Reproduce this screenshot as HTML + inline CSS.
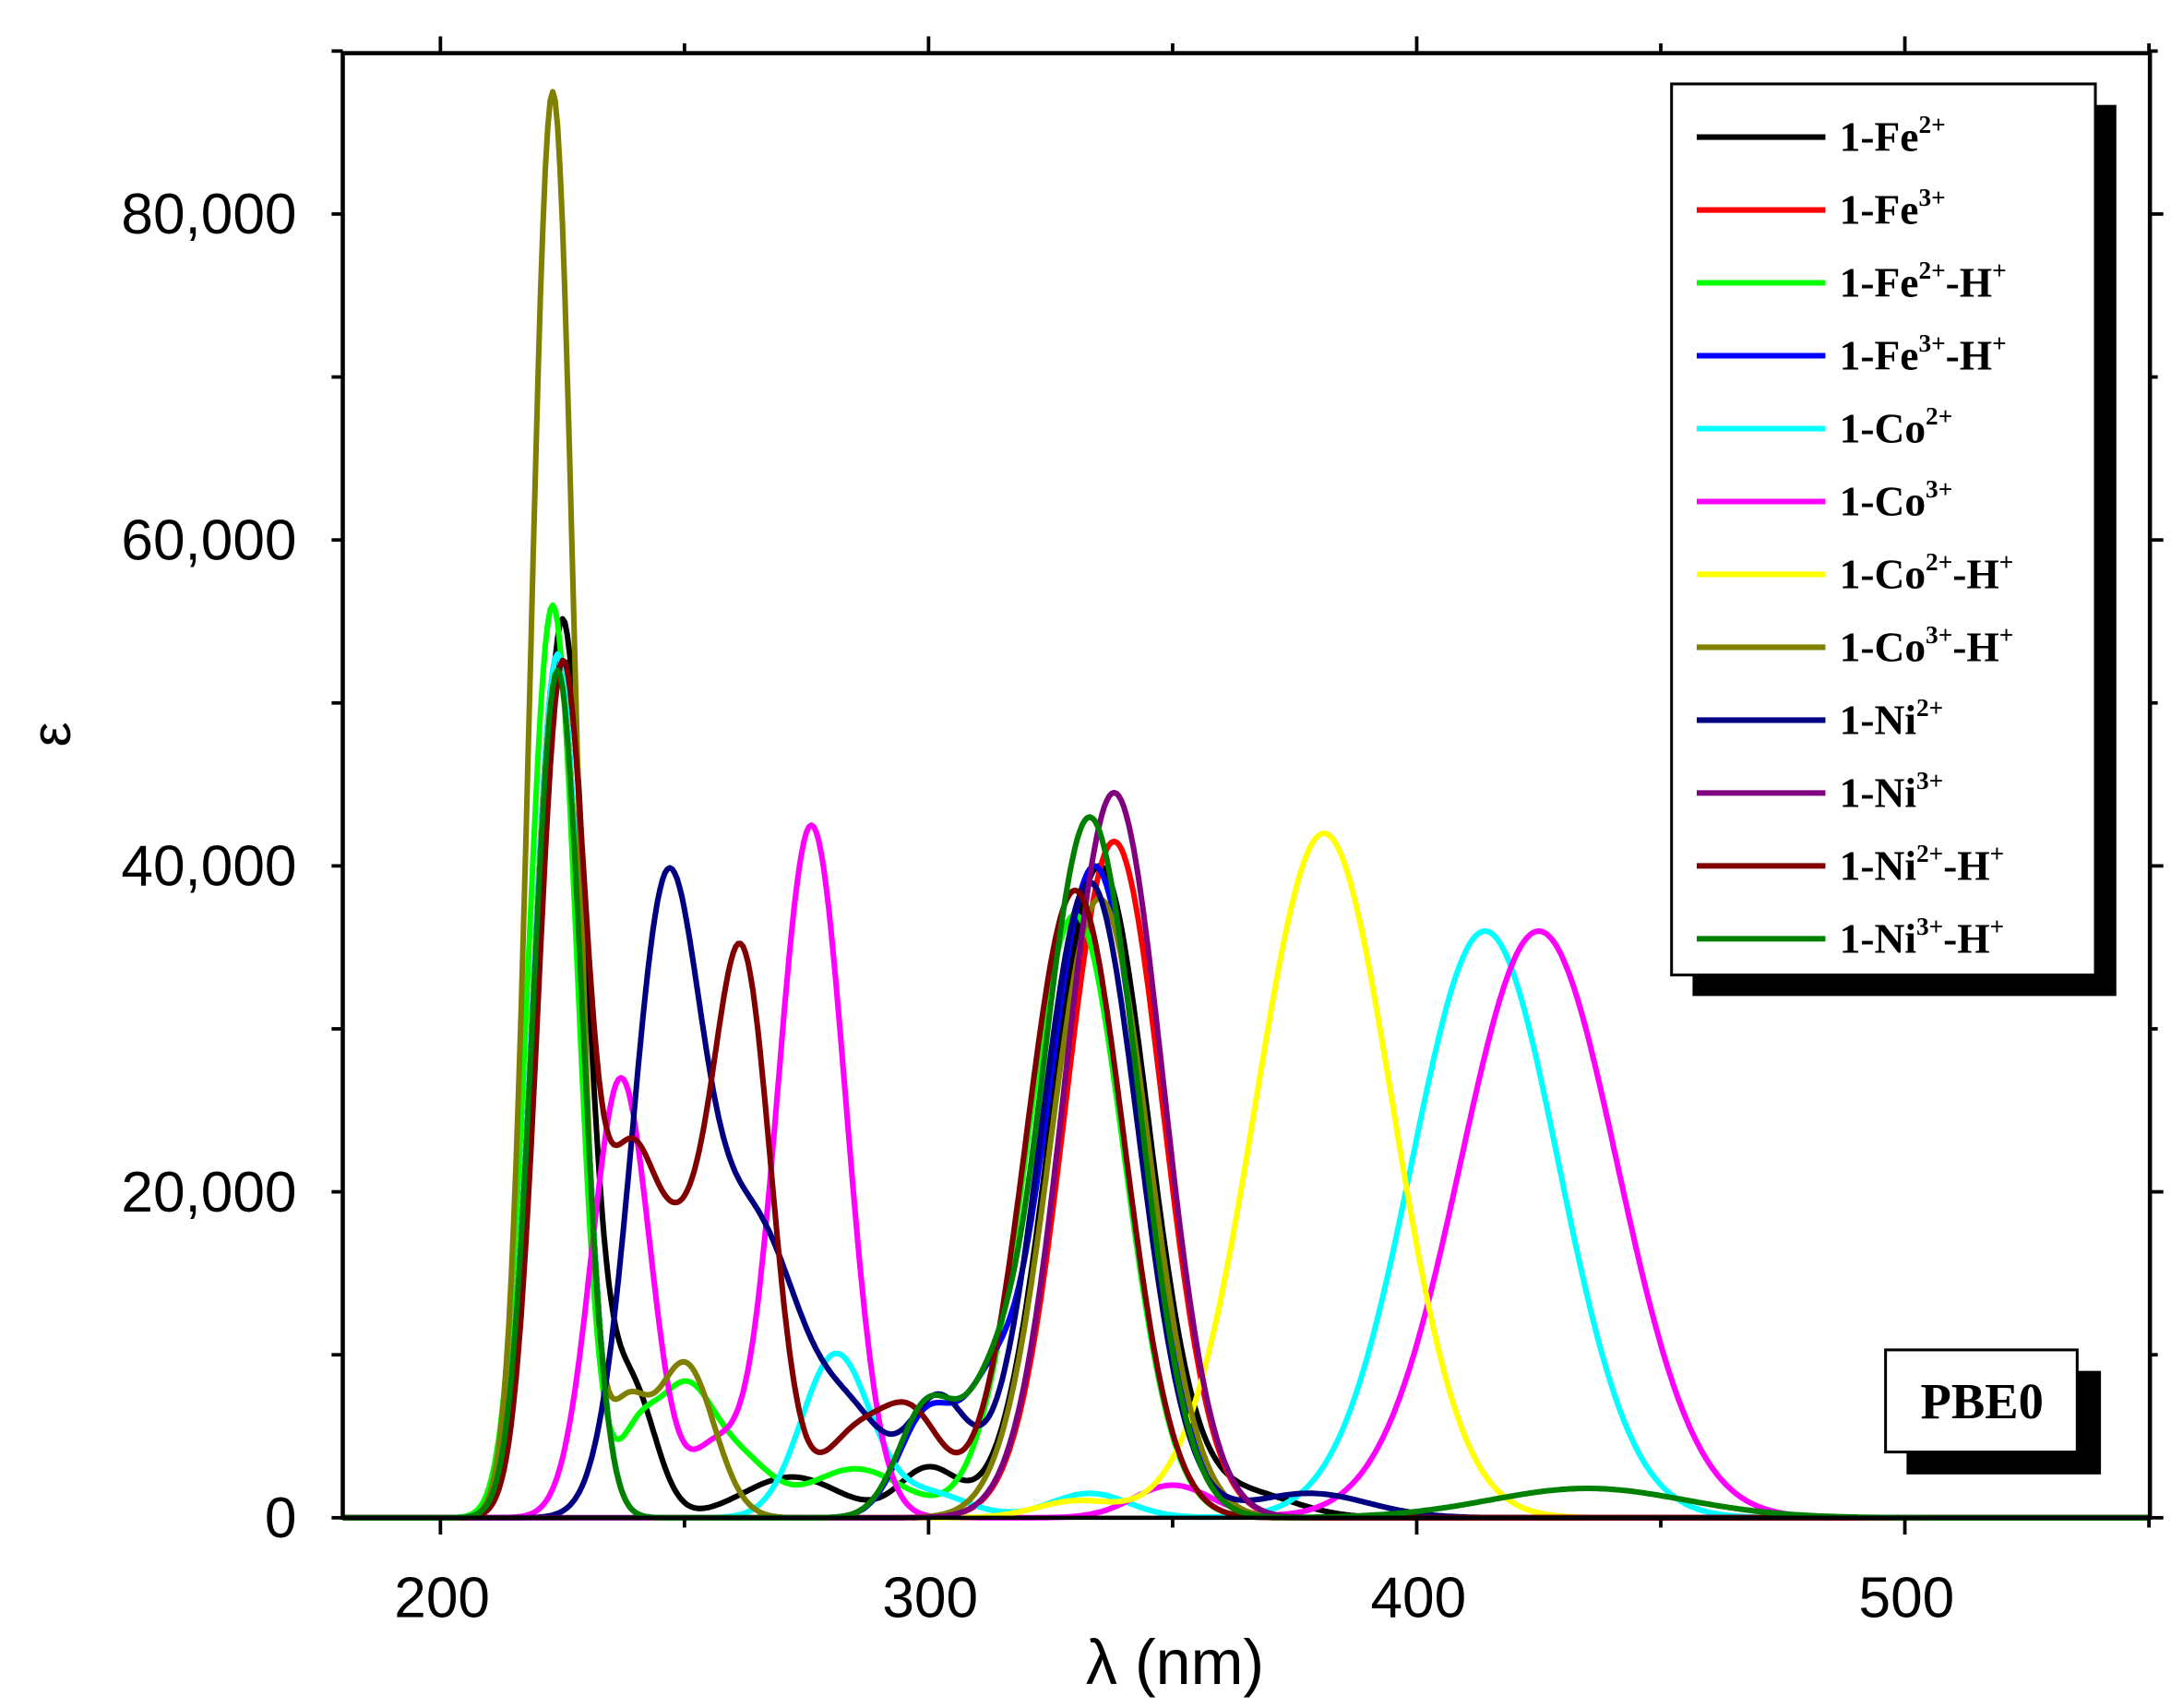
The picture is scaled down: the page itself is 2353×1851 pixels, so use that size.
<!DOCTYPE html>
<html><head><meta charset="utf-8">
<style>html,body{margin:0;padding:0;background:#fff}svg{display:block}</style>
</head><body>
<svg id="s" width="2353" height="1851" viewBox="0 0 1552 1221" xmlns="http://www.w3.org/2000/svg">
<rect x="0" y="0" width="1552" height="1221" fill="#fff"/>
<g id="curves" fill="none" stroke-width="4" stroke-linejoin="round"></g>
<rect x="245" y="38" width="1292" height="1047" fill="none" stroke="#000" stroke-width="3"/>
<g id="ticks" stroke="#000" stroke-width="2.5"></g>
<g font-family="Liberation Sans, sans-serif" font-size="41" fill="#000">
<text x="212" y="167" text-anchor="end">80,000</text>
<text x="212" y="400" text-anchor="end">60,000</text>
<text x="212" y="633" text-anchor="end">40,000</text>
<text x="212" y="866" text-anchor="end">20,000</text>
<text x="212" y="1099" text-anchor="end">0</text>
<text x="316" y="1156" text-anchor="middle">200</text>
<text x="665" y="1156" text-anchor="middle">300</text>
<text x="1014" y="1156" text-anchor="middle">400</text>
<text x="1363" y="1156" text-anchor="middle">500</text>
<text x="840" y="1204" text-anchor="middle" font-size="45">λ (nm)</text>
<text transform="translate(50,525) rotate(-90)" text-anchor="middle" font-size="40">ε</text>
</g>
<rect x="1210" y="75" width="303" height="637" fill="#000"/>
<rect x="1195" y="60" width="303" height="637" fill="#fff" stroke="#000" stroke-width="2"/>
<g id="legend" font-family="Liberation Serif, serif" font-weight="bold" font-size="30"></g>
<rect x="1363" y="980" width="139" height="74" fill="#000"/>
<rect x="1348" y="965" width="137" height="73" fill="#fff" stroke="#000" stroke-width="2"/>
<text x="1417" y="1014" text-anchor="middle" font-family="Liberation Serif, serif" font-weight="bold" font-size="36">PBE0</text>
</svg>
<script>
var NS="http://www.w3.org/2000/svg";
function X(nm){return 245+(nm-180)*3.49}
function Y(e){return 1085-e*0.01165}
var S=[
["1-Fe","2+","","#000",[[225,55000,5],[239,8000,5],[272,2500,10],[300,3000,6],[335,40000,10],[365,1500,10]]],
["1-Fe","3+","","#f00",[[224,53000,5],[338,41500,10]]],
["1-Fe","2+","-H","#0f0",[[223,56000,5],[240,4000,4],[250,7800,6],[262,3000,6],[285,3000,10],[330,37000,10]]],
["1-Fe","3+","-H","#00f",[[224,53000,5],[300,6500,6],[312,5000,5],[334,40000,10]]],
["1-Co","2+","","#0ff",[[224,53000,5],[281,10000,7],[300,1500,8],[333,1500,8],[414,36000,15]]],
["1-Co","3+","","#f0f",[[237,27000,6],[256,4000,5],[276,42500,7],[350,2000,8],[425,36000,16]]],
["1-Co","2+","-H","#ff0",[[224,52000,5],[330,1000,8],[381,42000,14]]],
["1-Co","3+","-H","#808000",[[223,87500,4.5],[238,6000,4],[250,9500,6],[335,38000,10]]],
["1-Ni","2+","","#000080",[[246,36000,7],[264,18000,10],[285,5000,7],[302,7000,6],[333,39000,10],[378,1500,12]]],
["1-Ni","3+","","#800080",[[338,44500,10]]],
["1-Ni","2+","-H","#800000",[[225,52000,5],[238,16000,5],[248,15000,7],[262,33000,6],[285,5000,7],[297,5500,6],[330,38500,10]]],
["1-Ni","3+","-H","#008000",[[224,52000,5],[300,7000,6],[312,4000,5],[333,43000,10],[435,1800,20]]]
];
var cg=document.getElementById("curves"),lg=document.getElementById("legend");
S.forEach(function(s,i){
 var d="";
 for(var nm=180;nm<=550;nm+=0.5){var e=0;s[4].forEach(function(g){var z=(nm-g[0])/g[2];e+=g[1]*Math.exp(-0.5*z*z)});d+=(d?"L":"M")+X(nm).toFixed(1)+" "+Y(e).toFixed(1)}
 var p=document.createElementNS(NS,"path");p.setAttribute("d",d);p.setAttribute("stroke",s[3]);cg.appendChild(p);
 var y=98+i*52.1;
 var l=document.createElementNS(NS,"line");l.setAttribute("x1",1213);l.setAttribute("x2",1305);l.setAttribute("y1",y);l.setAttribute("y2",y);l.setAttribute("stroke",s[3]);l.setAttribute("stroke-width",4);lg.appendChild(l);
 var t=document.createElementNS(NS,"text");t.setAttribute("x",1315);t.setAttribute("y",y+10);
 var h='<tspan>'+s[0]+'</tspan><tspan font-size="18" dy="-13">'+s[1]+'</tspan>';
 if(s[2])h+='<tspan dy="13">'+s[2]+'</tspan><tspan font-size="18" dy="-13">+</tspan>';
 t.innerHTML=h;lg.appendChild(t);
});
var tg=document.getElementById("ticks");
function ln(a,b,c,d){var l=document.createElementNS(NS,"line");l.setAttribute("x1",a);l.setAttribute("y1",b);l.setAttribute("x2",c);l.setAttribute("y2",d);tg.appendChild(l)}
for(var e=0;e<=90000;e+=10000){var y=Y(e);var L=(e%20000==0)?12:7;ln(237,y,245,y);ln(1537,y,1537+L*0.8,y)}
for(var nm=200;nm<=550;nm+=50){var x=X(nm);var L=(nm%100==0)?12:7;ln(x,1085,x,1085+L);ln(x,38,x,38-L)}
</script>
</body></html>
